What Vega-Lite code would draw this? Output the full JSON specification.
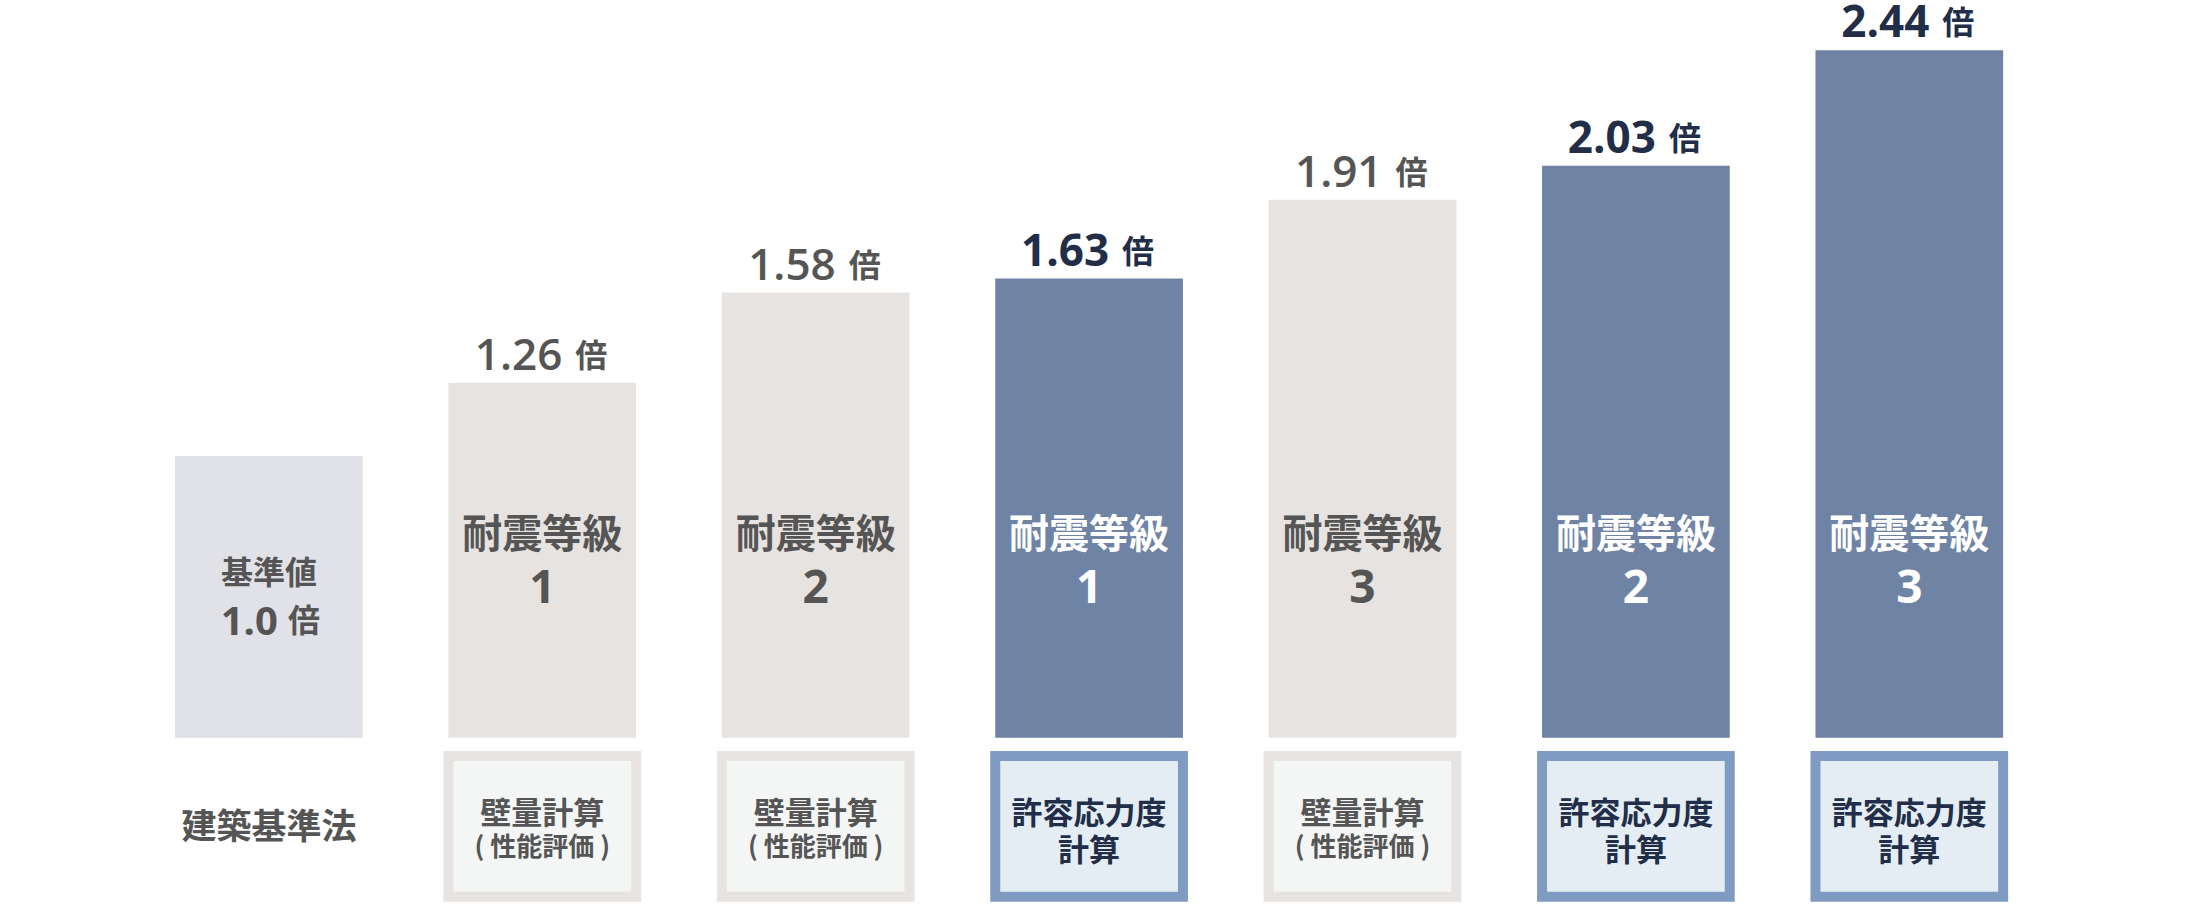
{
  "$schema": "https://vega.github.io/schema/vega-lite/v6.json",
  "width": 2199,
  "height": 916,
  "autosize": "none",
  "padding": 0,
  "background": "#ffffff",
  "config": {"view": {"stroke": null}},
  "data": {
    "values": [
      {"id": "base", "value": 1.0, "type": "base", "grade": "", "method1": "", "method2": ""},
      {"id": "wall1", "value": 1.26, "type": "wall", "grade": "1", "method1": "壁量計算", "method2": "( 性能評価 )"},
      {"id": "wall2", "value": 1.58, "type": "wall", "grade": "2", "method1": "壁量計算", "method2": "( 性能評価 )"},
      {"id": "allow1", "value": 1.63, "type": "allow", "grade": "1", "method1": "許容応力度", "method2": "計算"},
      {"id": "wall3", "value": 1.91, "type": "wall", "grade": "3", "method1": "壁量計算", "method2": "( 性能評価 )"},
      {"id": "allow2", "value": 2.03, "type": "allow", "grade": "2", "method1": "許容応力度", "method2": "計算"},
      {"id": "allow3", "value": 2.44, "type": "allow", "grade": "3", "method1": "許容応力度", "method2": "計算"}
    ]
  },
  "encoding": {
    "x": {"field": "id", "type": "nominal", "sort": null, "axis": null,
      "scale": {"type": "band", "range": [132.2, 2046], "paddingInner": 0.3135, "paddingOuter": 0.15675}}
  },
  "layer": [
    {
      "mark": {"type": "bar"},
      "encoding": {
        "y": {"field": "value", "type": "quantitative", "axis": null, "scale": {"domain": [-0.6329, 2.6187], "nice": false, "zero": false}},
        "y2": {"datum": 0},
        "fill": {"condition": [{"test": "datum.type==='base'", "value": "#e1e2e8"}, {"test": "datum.type==='allow'", "value": "#6f83a5"}], "value": "#e7e3e0"}
      }
    },
    {
      "transform": [{"filter": "datum.type!=='base'"}],
      "mark": {"type": "bar", "strokeWidth": 10},
      "encoding": {
        "y": {"datum": -0.065, "type": "quantitative", "axis": null, "scale": {"domain": [-0.6329, 2.6187], "nice": false, "zero": false}},
        "y2": {"datum": -0.5644},
        "fill": {"condition": {"test": "datum.type==='allow'", "value": "#e3edf3"}, "value": "#f4f5f5"},
        "stroke": {"condition": {"test": "datum.type==='allow'", "value": "#7f9bc1"}, "value": "#e7e3e0"}
      }
    },
    {
      "transform": [{"filter": "datum.type==='wall'"}],
      "mark": {"type": "text", "font": "Open Sans", "fontSize": 44, "fontWeight": 600, "align": "right", "baseline": "alphabetic", "dx": 20, "dy": -13, "fill": "#555555"},
      "encoding": {
        "y": {"field": "value", "type": "quantitative", "axis": null, "scale": {"domain": [-0.6329, 2.6187], "nice": false, "zero": false}},
        "text": {"field": "value", "type": "quantitative", "format": ".2f"}
      }
    },
    {
      "transform": [{"filter": "datum.type==='allow'"}],
      "mark": {"type": "text", "font": "Open Sans", "fontSize": 44, "fontWeight": 700, "align": "right", "baseline": "alphabetic", "dx": 20, "dy": -13, "fill": "#222e48"},
      "encoding": {
        "y": {"field": "value", "type": "quantitative", "axis": null, "scale": {"domain": [-0.6329, 2.6187], "nice": false, "zero": false}},
        "text": {"field": "value", "type": "quantitative", "format": ".2f"}
      }
    },
    {
      "transform": [{"filter": "datum.type!=='base'"}],
      "mark": {"type": "text", "font": "Noto Sans CJK JP", "fontSize": 32, "fontWeight": 700, "align": "left", "baseline": "alphabetic", "dx": 33, "dy": -16},
      "encoding": {
        "y": {"field": "value", "type": "quantitative", "axis": null, "scale": {"domain": [-0.6329, 2.6187], "nice": false, "zero": false}},
        "text": {"value": "倍"},
        "fill": {"condition": {"test": "datum.type==='allow'", "value": "#222e48"}, "value": "#555555"}
      }
    },
    {
      "transform": [{"filter": "datum.type!=='base'"}],
      "mark": {"type": "text", "font": "Noto Sans CJK JP", "fontSize": 40, "fontWeight": 700, "align": "center", "baseline": "middle"},
      "encoding": {
        "y": {"datum": 0.716, "type": "quantitative", "axis": null, "scale": {"domain": [-0.6329, 2.6187], "nice": false, "zero": false}},
        "text": {"value": "耐震等級"},
        "fill": {"condition": {"test": "datum.type==='allow'", "value": "#ffffff"}, "value": "#555555"}
      }
    },
    {
      "transform": [{"filter": "datum.type!=='base'"}],
      "mark": {"type": "text", "font": "Open Sans", "fontSize": 46, "fontWeight": 700, "align": "center", "baseline": "alphabetic"},
      "encoding": {
        "y": {"datum": 0.478, "type": "quantitative", "axis": null, "scale": {"domain": [-0.6329, 2.6187], "nice": false, "zero": false}},
        "text": {"field": "grade", "type": "nominal"},
        "fill": {"condition": {"test": "datum.type==='allow'", "value": "#ffffff"}, "value": "#555555"}
      }
    },
    {
      "transform": [{"filter": "datum.type==='base'"}],
      "mark": {"type": "text", "font": "Noto Sans CJK JP", "fontSize": 32, "fontWeight": 700, "align": "center", "baseline": "middle", "fill": "#555555"},
      "encoding": {
        "y": {"datum": 0.581, "type": "quantitative", "axis": null, "scale": {"domain": [-0.6329, 2.6187], "nice": false, "zero": false}},
        "text": {"value": "基準値"}
      }
    },
    {
      "transform": [{"filter": "datum.type==='base'"}],
      "mark": {"type": "text", "font": "Open Sans", "fontSize": 40, "fontWeight": 700, "align": "right", "baseline": "alphabetic", "dx": 9, "fill": "#555555"},
      "encoding": {
        "y": {"datum": 0.3645, "type": "quantitative", "axis": null, "scale": {"domain": [-0.6329, 2.6187], "nice": false, "zero": false}},
        "text": {"field": "value", "type": "quantitative", "format": ".1f"}
      }
    },
    {
      "transform": [{"filter": "datum.type==='base'"}],
      "mark": {"type": "text", "font": "Noto Sans CJK JP", "fontSize": 32, "fontWeight": 700, "align": "left", "baseline": "alphabetic", "dx": 19, "dy": -3, "fill": "#555555"},
      "encoding": {
        "y": {"datum": 0.3645, "type": "quantitative", "axis": null, "scale": {"domain": [-0.6329, 2.6187], "nice": false, "zero": false}},
        "text": {"value": "倍"}
      }
    },
    {
      "transform": [{"filter": "datum.type==='base'"}],
      "mark": {"type": "text", "font": "Noto Sans CJK JP", "fontSize": 35, "fontWeight": 700, "align": "center", "baseline": "middle", "fill": "#555555"},
      "encoding": {
        "y": {"datum": -0.32, "type": "quantitative", "axis": null, "scale": {"domain": [-0.6329, 2.6187], "nice": false, "zero": false}},
        "text": {"value": "建築基準法"}
      }
    },
    {
      "transform": [{"filter": "datum.type!=='base'"}],
      "mark": {"type": "text", "font": "Noto Sans CJK JP", "fontSize": 31, "fontWeight": 700, "align": "center", "baseline": "middle"},
      "encoding": {
        "y": {"datum": -0.274, "type": "quantitative", "axis": null, "scale": {"domain": [-0.6329, 2.6187], "nice": false, "zero": false}},
        "text": {"field": "method1", "type": "nominal"},
        "fill": {"condition": {"test": "datum.type==='allow'", "value": "#222e48"}, "value": "#555555"}
      }
    },
    {
      "transform": [{"filter": "datum.type==='wall'"}],
      "mark": {"type": "text", "font": "Noto Sans CJK JP", "fontSize": 26, "fontWeight": 700, "align": "center", "baseline": "middle", "fill": "#555555"},
      "encoding": {
        "y": {"datum": -0.3915, "type": "quantitative", "axis": null, "scale": {"domain": [-0.6329, 2.6187], "nice": false, "zero": false}},
        "text": {"field": "method2", "type": "nominal"}
      }
    },
    {
      "transform": [{"filter": "datum.type==='allow'"}],
      "mark": {"type": "text", "font": "Noto Sans CJK JP", "fontSize": 31, "fontWeight": 700, "align": "center", "baseline": "middle", "fill": "#222e48"},
      "encoding": {
        "y": {"datum": -0.404, "type": "quantitative", "axis": null, "scale": {"domain": [-0.6329, 2.6187], "nice": false, "zero": false}},
        "text": {"field": "method2", "type": "nominal"}
      }
    }
  ]
}
